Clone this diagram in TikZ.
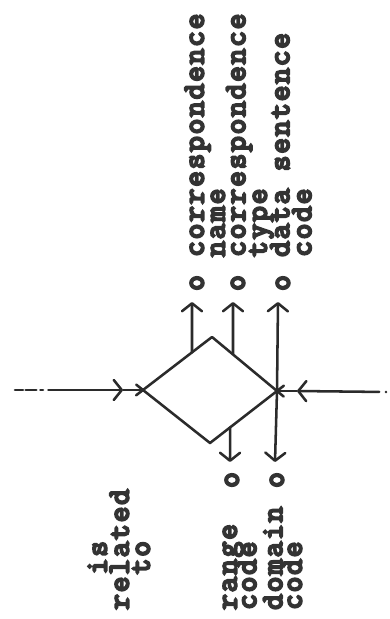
\documentclass[tikz,border=0pt]{standalone}
\usepackage{fontspec}
\newfontfamily\twtype{Latin Modern Mono}[FakeBold=7,LetterSpace=6.3]
\usetikzlibrary{arrows.meta,calc}
\definecolor{inkc}{HTML}{2B2B2B}
\definecolor{txtc}{HTML}{333333}
\newcommand\typed{\twtype\fontsize{22.7pt}{22pt}\selectfont}
\begin{document}
\begin{tikzpicture}[x=0.75pt,y=-0.75pt,
  ink/.style={draw=inkc,line width=1.9pt,line cap=round,line join=round},
  barb/.style={-{Straight Barb[length=6pt,width=15pt,round]}},
  lbl/.style={rotate=90,anchor=base west,inner sep=0pt,text=txtc,font=\typed},
  attr/.style={rotate=90,anchor=base,inner sep=0pt,text=txtc,font=\typed}]

\fill[white] (0,0) rectangle (390,619);
\useasboundingbox (0,0) rectangle (390,619);

% corners of the relation diamond
\coordinate (L) at (143,390);
\coordinate (T) at (212,337);
\coordinate (R) at (277,391);
\coordinate (B) at (210,443);

% incoming lines
\coordinate (inL) at (15,390);
\coordinate (hdL) at (123,390);
\coordinate (inR) at (386,392);
\coordinate (hdR) at (297,391);

% feet of the attribute arrows on the diamond
\coordinate (s1) at ($(L)!0.71!(T)$);
\coordinate (s2) at ($(T)!0.323!(R)$);
\coordinate (s4) at ($(B)!0.30!(R)$);

% arrow tips
\coordinate (t1) at (192,302);
\coordinate (t2) at (233,302);
\coordinate (t3) at (278,302);
\coordinate (t4) at (230,462);
\coordinate (t5) at (275,462);

% diamond, its edges crossing at the side corners
\draw[ink] ($(L)!-6.5pt!(T)$) -- (T) -- ($(R)!-6.5pt!(T)$);
\draw[ink] ($(L)!-6.5pt!(B)$) -- (B) -- ($(R)!-6.5pt!(B)$);

% incoming connectors
\draw[ink,barb,dash pattern=on 6pt off 2pt on 8pt off 3pt on 2pt off 4pt on 300pt] (inL) -- (hdL);
\draw[ink] (hdL) -- (L);
\draw[ink,barb,dash pattern=on 0.1pt off 5pt on 300pt] (inR) -- (hdR);
\draw[ink] (hdR) -- (R);

% attribute arrows
\draw[ink,barb] (s1) -- (t1);
\draw[ink,barb] (s2) -- (t2);
\draw[ink,barb] (R) -- (t3);
\draw[ink,barb] (s4) -- (t4);
\draw[ink,barb] (R) -- (t5);

% attribute marks
\node[attr] (o1) at (203.5,283) {o};
\node[attr] (o2) at (244.5,283) {o};
\node[attr] (o3) at (289.5,283) {o};
\node[attr] (o4) at (238.5,480) {o};
\node[attr] (o5) at (283.5,480) {o};

% labels above
\node[lbl] (ta1) at (203.5,257) {correspondence};
\node[lbl] (ta2) at (224.5,257) {name};
\node[lbl] (tb1) at (245,257) {correspondence};
\node[lbl] (tb2) at (266.5,257) {type};
\node[lbl] (tc1) at (289,257) {data sentence};
\node[lbl] (tc2) at (311,257) {code};

% labels below
\node[lbl] (ra1) at (236.5,610) {range};
\node[lbl] (ra2) at (256,610) {code};
\node[lbl] (da1) at (282,610) {domain};
\node[lbl] (da2) at (301.5,610) {code};

\node[lbl] (rel1) at (106.5,574.4) {is};
\node[lbl] (rel2) at (128.5,610) {related};
\node[lbl] (rel3) at (149.5,574.4) {to};
\end{tikzpicture}
\end{document}
